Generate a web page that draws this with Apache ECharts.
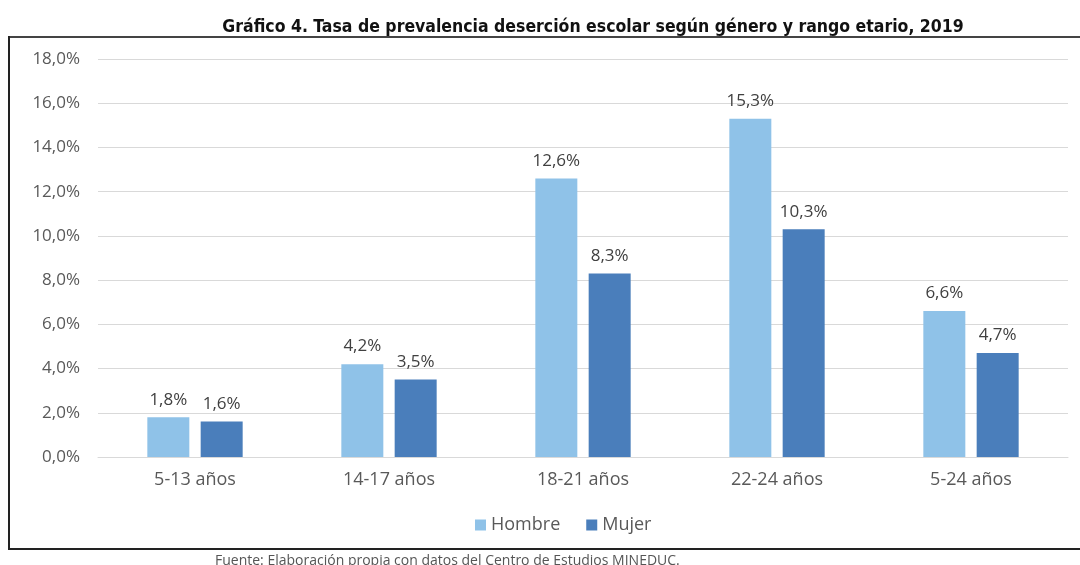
<!DOCTYPE html>
<html>
<head>
<meta charset="utf-8">
<script src="https://cdn.jsdelivr.net/npm/echarts@6/dist/echarts.min.js"></script>
<style>
html,body{margin:0;padding:0;background:#fff;}
#c{width:1080px;height:565px;}
</style>
</head>
<body>
<div id="c"></div>
<script>
const categories = ['5-13 años', '14-17 años', '18-21 años', '22-24 años', '5-24 años'];
const hombre = [1.8, 4.2, 12.6, 15.3, 6.6];
const mujer = [1.6, 3.5, 8.3, 10.3, 4.7];
const seriesNames = ['Hombre', 'Mujer'];
const titleText = 'Gráfico 4. Tasa de prevalencia deserción escolar según género y rango etario, 2019';
const sourceText = 'Fuente: Elaboración propia con datos del Centro de Estudios MINEDUC.';

const fmt = v => v.toFixed(1).replace('.', ',') + '%';
const labelFont = '"Open Sans", "Noto Sans", sans-serif';

const chart = echarts.init(document.getElementById('c'), null, {renderer: 'canvas'});
chart.setOption({
  animation: false,
  backgroundColor: '#fff',
  title: {
    text: titleText,
    left: 588, top: 13, textAlign: 'center',
    textStyle: {fontFamily: '"Liberation Sans Narrow", "DejaVu Sans Condensed", sans-serif', fontWeight: 'bold', fontSize: 17.5, color: '#111'}
  },
  graphic: [
    {type: 'line', shape: {x1: 8, y1: 37, x2: 1080, y2: 37}, style: {stroke: '#444', lineWidth: 2}},
    {type: 'line', shape: {x1: 9, y1: 36, x2: 9, y2: 550}, style: {stroke: '#222', lineWidth: 2}},
    {type: 'line', shape: {x1: 8, y1: 549, x2: 1080, y2: 549}, style: {stroke: '#222', lineWidth: 2}},
    {type: 'text', left: 215, top: 554, style: {text: sourceText, fontFamily: labelFont, fontSize: 14, fill: '#555'}}
  ],
  legend: {
    data: seriesNames,
    left: 470, top: 511,
    itemWidth: 11, itemHeight: 11, itemGap: 26,
    icon: 'rect',
    textStyle: {fontFamily: labelFont, fontSize: 18, color: '#595959'}
  },
  grid: {left: 98, right: 12, top: 59, bottom: 108, containLabel: false},
  xAxis: {
    type: 'category', data: categories,
    axisLine: {lineStyle: {color: '#d9d9d9', width: 1}},
    axisTick: {show: false},
    axisLabel: {fontFamily: labelFont, fontSize: 18, color: '#595959', margin: 14}
  },
  yAxis: {
    type: 'value', min: 0, max: 18, interval: 2,
    axisLine: {show: false}, axisTick: {show: false},
    splitLine: {lineStyle: {color: '#d9d9d9', width: 1}},
    axisLabel: {formatter: v => fmt(v), fontFamily: labelFont, fontSize: 17, color: '#595959', margin: 18}
  },
  series: [
    {
      name: seriesNames[0], type: 'bar', data: hombre,
      barWidth: 42, barGap: '27%',
      itemStyle: {color: '#8FC2E8'},
      label: {show: true, position: 'top', distance: 9, formatter: p => fmt(p.value), fontFamily: labelFont, fontSize: 17, color: '#404040'}
    },
    {
      name: seriesNames[1], type: 'bar', data: mujer,
      barWidth: 42,
      itemStyle: {color: '#4A7EBB'},
      label: {show: true, position: 'top', distance: 9, formatter: p => fmt(p.value), fontFamily: labelFont, fontSize: 17, color: '#404040'}
    }
  ]
});
</script>
</body>
</html>
